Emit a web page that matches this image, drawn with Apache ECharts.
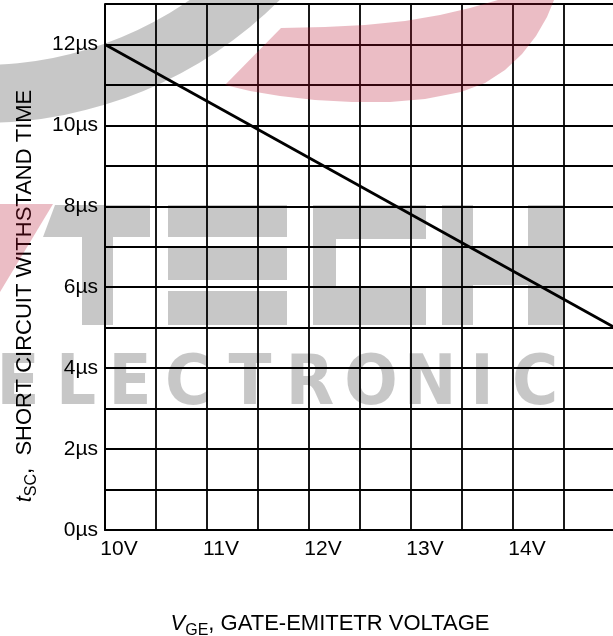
<!DOCTYPE html>
<html>
<head>
<meta charset="utf-8">
<title>Short circuit withstand time vs gate-emitter voltage</title>
<script src="https://cdn.jsdelivr.net/npm/echarts@6/dist/echarts.min.js"></script>
<style>
  html, body { margin: 0; padding: 0; background: #ffffff; }
  #chart { width: 613px; height: 636px; }
</style>
</head>
<body>
<div id="chart"></div>
<script>
// Gate-emitter voltage (V) and short circuit withstand time (µs)
const vgeValues = [10, 15];
const tscValues = [12, 5];

// Tick labels
const xTickValues = [10, 11, 12, 13, 14];
const xTickLabels = ['10V', '11V', '12V', '13V', '14V'];
const yTickValues = [0, 2, 4, 6, 8, 10, 12];
const yTickLabels = ['0µs', '2µs', '4µs', '6µs', '8µs', '10µs', '12µs'];

// Watermark lettering
const wordLetters = ['E', 'L', 'E', 'C', 'T', 'R', 'O', 'N', 'I', 'C'];
const wordCenters = [18, 76, 130, 188, 250, 310, 371, 430, 482, 535];

const FONT = "'Liberation Sans', Arial, Helvetica, sans-serif";
const GRAY = 'rgba(0,0,0,0.22)';
const RED = 'rgba(183,19,48,0.28)';

const chart = echarts.init(document.getElementById('chart'), null, { renderer: 'canvas' });

const lineData = vgeValues.map((v, i) => [v, tscValues[i]]);

// red crescent outline
const redSwoosh = [
  [225, 85], [250, 91], [280, 96], [315, 100], [352, 102], [390, 102], [425, 99],
  [461, 92], [485, 83], [505, 70], [522, 54], [536, 36], [547, 17], [554, 0],
  [498, 0], [470, 8], [440, 15], [405, 21], [365, 25], [325, 27], [281, 28]
];

const watermark = [
  // grey swoosh, upper left
  { type: 'ring', z: 100, silent: true,
    shape: { cx: -18, cy: -299, r: 422, r0: 364 },
    style: { fill: GRAY } },
  // red swoosh, top
  { type: 'polygon', z: 100, silent: true,
    shape: { points: redSwoosh },
    style: { fill: RED } },
  // red wedge, left
  { type: 'polygon', z: 100, silent: true,
    shape: { points: [[0, 204], [53, 204], [0, 292]] },
    style: { fill: RED } },
  // T
  { type: 'polygon', z: 100, silent: true,
    shape: { points: [[55, 205], [150, 205], [150, 237], [43, 237]] },
    style: { fill: GRAY } },
  { type: 'rect', z: 100, silent: true,
    shape: { x: 82, y: 237, width: 31, height: 88 }, style: { fill: GRAY } },
  // E
  { type: 'rect', z: 100, silent: true,
    shape: { x: 168, y: 205, width: 119, height: 32 }, style: { fill: GRAY } },
  { type: 'rect', z: 100, silent: true,
    shape: { x: 168, y: 248, width: 119, height: 32 }, style: { fill: GRAY } },
  { type: 'rect', z: 100, silent: true,
    shape: { x: 168, y: 291, width: 119, height: 34 }, style: { fill: GRAY } },
  // C
  { type: 'rect', z: 100, silent: true,
    shape: { x: 313, y: 205, width: 113, height: 34 }, style: { fill: GRAY } },
  { type: 'rect', z: 100, silent: true,
    shape: { x: 313, y: 239, width: 23, height: 49 }, style: { fill: GRAY } },
  { type: 'rect', z: 100, silent: true,
    shape: { x: 313, y: 288, width: 113, height: 37 }, style: { fill: GRAY } },
  // H
  { type: 'rect', z: 100, silent: true,
    shape: { x: 442, y: 205, width: 31, height: 120 }, style: { fill: GRAY } },
  { type: 'rect', z: 100, silent: true,
    shape: { x: 473, y: 248, width: 55, height: 37 }, style: { fill: GRAY } },
  { type: 'rect', z: 100, silent: true,
    shape: { x: 528, y: 205, width: 35, height: 120 }, style: { fill: GRAY } }
].concat(wordLetters.map((ch, i) => ({
  type: 'text', z: 100, silent: true,
  x: wordCenters[i], y: 386,
  style: {
    text: ch,
    fill: GRAY,
    font: "bold 70px 'DejaVu Sans Condensed', 'Liberation Sans Narrow', sans-serif",
    align: 'center',
    verticalAlign: 'middle'
  }
})));

const titles = [
  // y axis title
  { type: 'text', z: 50, silent: true,
    x: 25, y: 296, rotation: Math.PI / 2,
    style: {
      text: '{t|t}{s|SC}{n|,  SHORT CIRCUIT WITHSTAND TIME}',
      align: 'center', verticalAlign: 'middle', fill: '#000',
      rich: {
        t: { fontFamily: FONT, fontSize: 22, fontStyle: 'italic', lineHeight: 30, verticalAlign: 'middle', fill: '#000' },
        s: { fontFamily: FONT, fontSize: 16, lineHeight: 30, verticalAlign: 'bottom', fill: '#000' },
        n: { fontFamily: FONT, fontSize: 22, lineHeight: 30, verticalAlign: 'middle', fill: '#000' }
      }
    } },
  // x axis title
  { type: 'text', z: 50, silent: true,
    x: 330, y: 624,
    style: {
      text: '{v|V}{s|GE}{n|, GATE-EMITETR VOLTAGE}',
      align: 'center', verticalAlign: 'middle', fill: '#000',
      rich: {
        v: { fontFamily: FONT, fontSize: 22, fontStyle: 'italic', lineHeight: 30, verticalAlign: 'middle', fill: '#000' },
        s: { fontFamily: FONT, fontSize: 16, lineHeight: 30, verticalAlign: 'bottom', fill: '#000' },
        n: { fontFamily: FONT, fontSize: 22, lineHeight: 30, verticalAlign: 'middle', fill: '#000' }
      }
    } }
];

const option = {
  backgroundColor: '#ffffff',
  animation: false,
  grid: { left: 105, top: 4, width: 510, height: 526, containLabel: false, outerBoundsMode: 'none' },
  xAxis: {
    type: 'value',
    min: 10, max: 15, interval: 0.5,
    axisLine: { show: true, onZero: false, lineStyle: { color: '#000', width: 2 } },
    axisTick: { show: false },
    splitLine: { show: true, lineStyle: { color: '#000', width: 1.8 } },
    axisLabel: {
      color: '#000', fontFamily: FONT, fontSize: 21, margin: 9,
      align: 'center', padding: [0, 0, 0, 28],
      formatter: (v) => {
        const i = xTickValues.indexOf(v);
        return i >= 0 ? xTickLabels[i] : '';
      }
    }
  },
  yAxis: {
    type: 'value',
    min: 0, max: 13, interval: 1,
    axisLine: { show: true, lineStyle: { color: '#000', width: 2 } },
    axisTick: { show: false },
    splitLine: { show: true, lineStyle: { color: '#000', width: 1.8 } },
    axisLabel: {
      color: '#000', fontFamily: FONT, fontSize: 21, margin: 7,
      formatter: (v) => {
        const i = yTickValues.indexOf(v);
        return i >= 0 ? yTickLabels[i] : '';
      }
    }
  },
  series: [{
    type: 'line',
    data: lineData,
    showSymbol: false,
    symbol: 'none',
    lineStyle: { color: '#000', width: 2.8 },
    z: 10
  }],
  graphic: { elements: titles.concat(watermark) }
};

chart.setOption(option);
</script>
</body>
</html>
